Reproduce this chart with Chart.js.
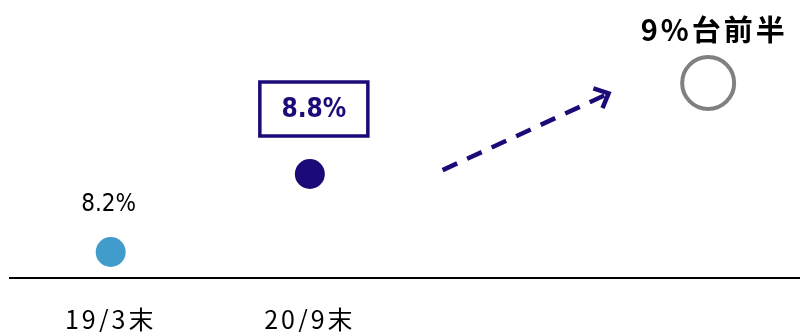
<!DOCTYPE html>
<html>
<head>
<meta charset="utf-8">
<script src="https://cdn.jsdelivr.net/npm/chart.js@4"></script>
<style>
  html, body { margin: 0; padding: 0; background: #fff; }
  #wrap { width: 800px; height: 332px; }
</style>
</head>
<body>
<div id="wrap"><canvas id="myChart"></canvas></div>
<script>
const periods = ["19/3末", "20/9末", ""];
const monthsFromStart = [0, 18, 54];
const ratios = [8.2, 8.8, 9.5];
const valueLabels = ["8.2%", "8.8%", "9%台前半"];
const tickMonths = [0, 18];

// trend arrow between the actual and the target (x in months, y in %)
const arrowFrom = { x: 30, y: 8.83 };
const arrowTo = { x: 45, y: 9.42 };

const NAVY = "#1b0b79";
const BLUE = "#419ccb";
const GREY = "#808080";
const JP = "'Noto Sans CJK JP', 'Noto Sans', sans-serif";

const ctx = document.getElementById("myChart").getContext("2d");

const spacingPlugin = {
  id: "tickSpacing",
  beforeDraw(chart) {
    chart.ctx.letterSpacing = "3px";
  },
};

const labelsPlugin = {
  id: "valueLabels",
  afterDatasetsDraw(chart) {
    const c = chart.ctx;
    const pts = chart.getDatasetMeta(0).data;
    const xs = chart.scales.x;
    const ys = chart.scales.y;
    c.save();
    c.textAlign = "center";
    c.textBaseline = "middle";

    // actual 19/3
    c.letterSpacing = "0px";
    c.fillStyle = "#000";
    c.font = "24px 'DejaVu Sans Condensed', " + JP;
    c.fillText(valueLabels[0], pts[0].x - 2, pts[0].y - 47);

    // actual 20/9, boxed
    const bx = pts[1].x + 4;
    const by = pts[1].y - 65;
    c.strokeStyle = NAVY;
    c.lineWidth = 3.5;
    c.strokeRect(bx - 54, by - 27, 108, 54);
    c.fillStyle = NAVY;
    c.font = "bold 26px 'DejaVu Sans Condensed', " + JP;
    c.fillText(valueLabels[1], bx, by + 1);

    // target
    c.fillStyle = "#000";
    c.letterSpacing = "3px";
    c.font = "bold 29px " + JP;
    c.fillText(valueLabels[2], pts[2].x + 6, pts[2].y - 53);
    c.letterSpacing = "0px";

    // dashed arrow
    const x0 = xs.getPixelForValue(arrowFrom.x);
    const y0 = ys.getPixelForValue(arrowFrom.y);
    const x1 = xs.getPixelForValue(arrowTo.x);
    const y1 = ys.getPixelForValue(arrowTo.y);
    c.strokeStyle = NAVY;
    c.lineWidth = 4.5;
    c.setLineDash([16, 11]);
    c.beginPath();
    c.moveTo(x0, y0);
    c.lineTo(x1 - 4, y1 + 2);
    c.stroke();
    c.setLineDash([]);
    const ang = Math.atan2(y1 - y0, x1 - x0);
    const len = 16;
    c.lineJoin = "miter";
    c.beginPath();
    c.moveTo(x1 - len * Math.cos(ang - 0.75), y1 - len * Math.sin(ang - 0.75));
    c.lineTo(x1, y1);
    c.lineTo(x1 - len * Math.cos(ang + 0.75), y1 - len * Math.sin(ang + 0.75));
    c.stroke();
    c.restore();
  },
};

const config = {
  type: "scatter",
  data: {
    datasets: [
      {
        data: monthsFromStart.map((m, i) => ({ x: m, y: ratios[i] })),
        pointRadius: [15, 15, 26],
        pointHoverRadius: [15, 15, 26],
        pointBorderWidth: [0, 0, 4],
        pointBackgroundColor: [BLUE, NAVY, "rgba(255,255,255,0)"],
        pointBorderColor: [BLUE, NAVY, GREY],
        clip: false,
      },
    ],
  },
  options: {
    responsive: true,
    maintainAspectRatio: false,
    animation: false,
    layout: {
      autoPadding: false,
      padding: { left: 10, right: 0, top: 18, bottom: 0 },
    },
    plugins: {
      legend: { display: false },
      title: { display: false },
      tooltip: { enabled: false },
    },
    scales: {
      x: {
        type: "linear",
        min: -9.1,
        max: 62.3,
        grid: { display: false },
        border: { display: true, color: "#000", width: 2 },
        afterBuildTicks: (scale) => {
          scale.ticks = tickMonths.map((v) => ({ value: v }));
        },
        afterFit: (scale) => {
          scale.height = 54;
        },
        ticks: {
          padding: 18,
          color: "#000",
          maxRotation: 0,
          autoSkip: false,
          font: { family: JP, size: 25 },
          callback: (value) => periods[monthsFromStart.indexOf(value)],
        },
      },
      y: {
        display: false,
        min: 8.0,
        max: 10.0,
      },
    },
  },
  plugins: [spacingPlugin, labelsPlugin],
};

const myChart = new Chart(ctx, config);
</script>
</body>
</html>
